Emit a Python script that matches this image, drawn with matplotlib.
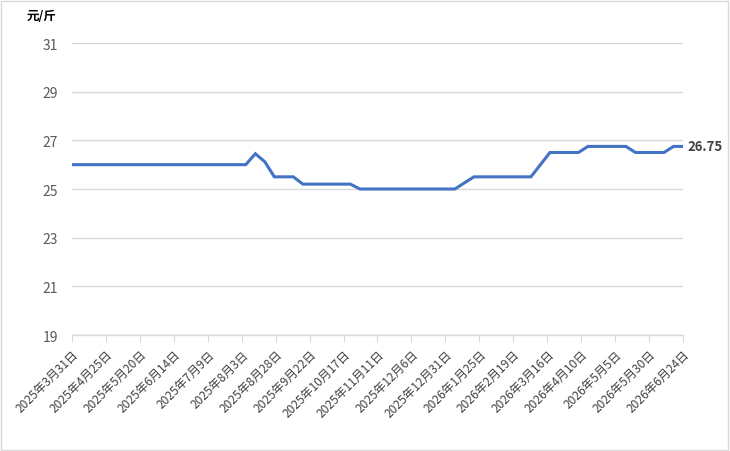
import matplotlib
matplotlib.use("Agg")
import matplotlib.pyplot as plt
from matplotlib.patches import Rectangle
import pandas as pd

plt.rcParams["font.family"] = ["Noto Sans CJK SC", "DejaVu Sans"]

# weekly prices (yuan / jin): first point 2025-03-31, then every Wednesday
first_date = "2025-03-31"
weekly_start = "2025-04-02"
last_date = "2026-06-24"
prices = [
    26.0,
    26.0, 26.0, 26.0, 26.0, 26.0, 26.0, 26.0, 26.0, 26.0, 26.0,
    26.0, 26.0, 26.0, 26.0, 26.0, 26.0, 26.0, 26.0, 26.0,
    26.45, 26.12,
    25.5, 25.5, 25.5,
    25.2, 25.2, 25.2, 25.2, 25.2, 25.2,
    25.0, 25.0, 25.0, 25.0, 25.0, 25.0, 25.0, 25.0, 25.0, 25.0, 25.0,
    25.25,
    25.5, 25.5, 25.5, 25.5, 25.5, 25.5, 25.5,
    26.0,
    26.5, 26.5, 26.5, 26.5,
    26.75, 26.75, 26.75, 26.75, 26.75,
    26.5, 26.5, 26.5, 26.5,
    26.75, 26.75,
]
unit_label = "元/斤"
y_ticks = [19, 21, 23, 25, 27, 29, 31]

dates = pd.DatetimeIndex([pd.Timestamp(first_date)]).append(
    pd.date_range(weekly_start, last_date, freq="7D"))
tick_dates = pd.date_range(first_date, last_date, freq="25D")
tick_labels = [f"{d.year}年{d.month}月{d.day}日" for d in tick_dates]

grey = "#d9d9d9"
fig = plt.figure(figsize=(7.3, 4.52), dpi=100)
ax = fig.add_axes([72 / 730, 1 - 336 / 452, 611 / 730, 292 / 452])

ax.plot(dates, prices, color="#4472C4", lw=2.2, solid_joinstyle="miter", zorder=3)

ax.set_xlim(dates[0], dates[-1])
ax.set_ylim(19, 31)
ax.set_yticks(y_ticks)
ax.grid(axis="y", color=grey, lw=1)
ax.set_axisbelow(True)
for s in ["top", "right", "left"]:
    ax.spines[s].set_visible(False)
ax.spines["bottom"].set_color(grey)
ax.spines["bottom"].set_linewidth(1)
ax.tick_params(axis="y", length=0, pad=10, labelsize=10, labelcolor="#595959")
ax.set_xticks(tick_dates)
ax.set_xticklabels(tick_labels, rotation=45, ha="right", rotation_mode="anchor",
                   fontsize=8.6, color="#404040")
ax.tick_params(axis="x", direction="out", length=5, color=grey, pad=4)

ax.annotate(f"{prices[-1]:.2f}", (dates[-1], prices[-1]), xytext=(3, 0),
            textcoords="offset points", ha="left", va="center",
            fontsize=9.5, fontweight="bold", color="#404040")
fig.text(27 / 730, 1 - 17 / 452, unit_label, fontsize=9, fontweight="bold",
         color="black", ha="left", va="center")

fig.patches.append(Rectangle((1 / 730, 1 / 452), 727 / 730, 449 / 452, fill=False,
                             edgecolor=grey, lw=1, transform=fig.transFigure))

fig.savefig("out.png", dpi=100)
